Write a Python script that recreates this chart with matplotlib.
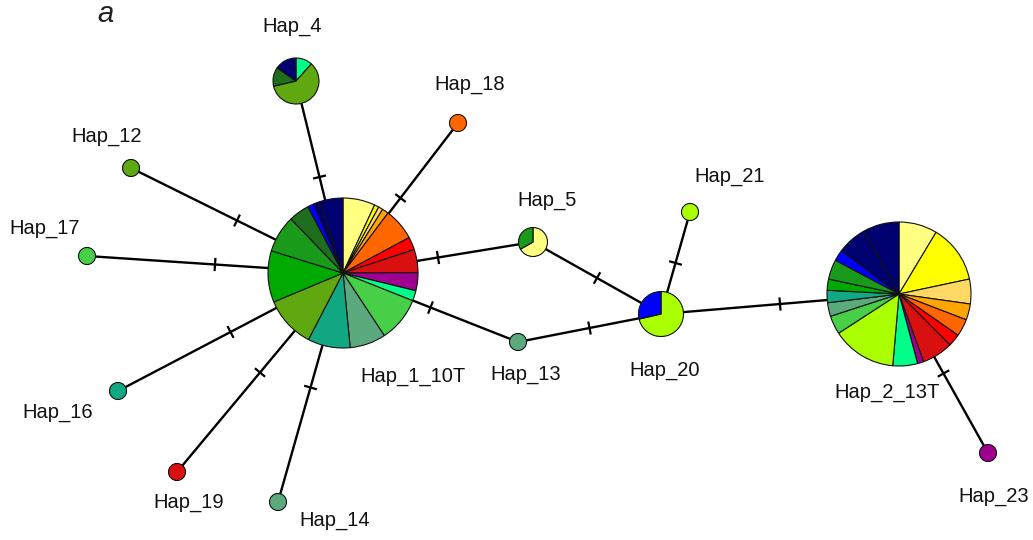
import matplotlib.pyplot as plt
import numpy as np

plt.rcParams['font.family'] = ['Liberation Sans', 'DejaVu Sans']

W, H = 1033, 540

# population colours
LTYEL = '#FFFF80'
YEL = '#FFFF00'
LTORA = '#FFD966'
ORA = '#FFA500'
ORRED = '#FF6600'
RED = '#FF0000'
DKRED = '#D81010'
PURP = '#A00090'
SPRING = '#00FF88'
LTGRN = '#48CF48'
GRYGRN = '#5BAA7D'
TEAL = '#12A884'
OLIVE = '#5FA80F'
GRN = '#00AA00'
MIDGRN = '#1A9A1A'
DKGRN = '#1E6E1E'
BLUE = '#0000FF'
NAVY = '#000070'
YLGRN = '#AAFF00'

# haplotype frequencies per population (clockwise from 12 o'clock)
hap1_sizes = [25, 3.5, 3.5, 5, 25, 10, 18, 14, 8, 35, 28, 33, 40, 40, 29, 16, 5, 5, 18]
hap1_colors = [LTYEL, YEL, LTORA, ORA, ORRED, RED, DKRED, PURP, SPRING, LTGRN,
               GRYGRN, TEAL, OLIVE, GRN, MIDGRN, DKGRN, BLUE, NAVY, NAVY]

hap2_sizes = [31, 47, 20, 13, 14, 10, 25, 5, 20, 52, 15, 11, 10, 9, 16, 9, 24, 29]
hap2_colors = [LTYEL, YEL, LTORA, ORA, ORRED, RED, DKRED, PURP, SPRING, YLGRN,
               LTGRN, GRYGRN, TEAL, GRN, MIDGRN, BLUE, NAVY, NAVY]

hap4_sizes = [42, 215, 48, 55]
hap4_colors = [SPRING, OLIVE, DKGRN, NAVY]

hap5_sizes = [240, 120]
hap5_colors = [LTYEL, MIDGRN]

hap20_sizes = [257, 103]
hap20_colors = [YLGRN, BLUE]

singletons = ['Hap_12', 'Hap_17', 'Hap_16', 'Hap_19', 'Hap_14',
              'Hap_18', 'Hap_13', 'Hap_21', 'Hap_23']
singleton_colors = [OLIVE, LTGRN, TEAL, DKRED, GRYGRN, ORRED, GRYGRN, YLGRN, PURP]

pies = {
    'Hap_1_10T': (hap1_sizes, hap1_colors),
    'Hap_2_13T': (hap2_sizes, hap2_colors),
    'Hap_4': (hap4_sizes, hap4_colors),
    'Hap_5': (hap5_sizes, hap5_colors),
    'Hap_20': (hap20_sizes, hap20_colors),
}
for name, col in zip(singletons, singleton_colors):
    pies[name] = ([1], [col])

# network layout in pixel coordinates (x, y from top, radius)
layout = {
    'Hap_1_10T': (343, 273, 75),
    'Hap_2_13T': (899, 294, 72),
    'Hap_4': (296, 81, 23),
    'Hap_5': (533, 242, 14.5),
    'Hap_20': (661, 314, 22.5),
    'Hap_12': (131, 168, 8.5),
    'Hap_17': (87, 256, 8.5),
    'Hap_16': (118, 391, 8.5),
    'Hap_19': (177, 472, 8.5),
    'Hap_14': (278, 502, 8.5),
    'Hap_18': (458, 123, 8.5),
    'Hap_13': (518, 342, 8.5),
    'Hap_21': (690, 212, 8.5),
    'Hap_23': (988, 453, 8.5),
}

label_pos = {
    'Hap_1_10T': (413, 376),
    'Hap_2_13T': (887, 392),
    'Hap_4': (292, 26),
    'Hap_5': (547, 201),
    'Hap_20': (665, 370),
    'Hap_12': (107, 137),
    'Hap_17': (45, 228),
    'Hap_16': (58, 413),
    'Hap_19': (189, 503),
    'Hap_14': (335, 520),
    'Hap_18': (470, 84),
    'Hap_13': (526, 375),
    'Hap_21': (730, 177),
    'Hap_23': (994, 497),
}

edges = [
    ('Hap_1_10T', 'Hap_4'), ('Hap_1_10T', 'Hap_18'), ('Hap_1_10T', 'Hap_12'),
    ('Hap_1_10T', 'Hap_17'), ('Hap_1_10T', 'Hap_16'), ('Hap_1_10T', 'Hap_19'),
    ('Hap_1_10T', 'Hap_14'), ('Hap_1_10T', 'Hap_5'), ('Hap_1_10T', 'Hap_13'),
    ('Hap_5', 'Hap_20'), ('Hap_13', 'Hap_20'), ('Hap_20', 'Hap_21'),
    ('Hap_20', 'Hap_2_13T'), ('Hap_2_13T', 'Hap_23'),
]

fig = plt.figure(figsize=(W / 100, H / 100), dpi=100)
ax = fig.add_axes([0, 0, 1, 1])


def xy(name):
    x, y, r = layout[name]
    return np.array([x, H - y]), r


# branches with one mutation tick each
for a, b in edges:
    pa, _ = xy(a)
    pb, _ = xy(b)
    ax.plot([pa[0], pb[0]], [pa[1], pb[1]], color='black', lw=1.7, zorder=1,
            solid_capstyle='butt')
    d = (pb - pa) / np.linalg.norm(pb - pa)
    n = np.array([-d[1], d[0]]) * 5.5
    m = (pa + pb) / 2
    ax.plot([m[0] - n[0], m[0] + n[0]], [m[1] - n[1], m[1] + n[1]],
            color='black', lw=1.6, zorder=1)

for name, (sizes, colors) in pies.items():
    c, r = xy(name)
    wedges, _ = ax.pie(sizes, colors=colors, center=tuple(c), radius=r,
                       startangle=90, counterclock=False, frame=True,
                       wedgeprops=dict(edgecolor='#111111', linewidth=0.8))
    for w in wedges:
        w.set_zorder(3)

for name, (x, y) in label_pos.items():
    ax.text(x, H - y, name, fontsize=14.5, ha='center', va='center', color='#111111')

ax.text(105, H - 14, 'a', fontsize=21, style='italic', ha='center', va='center',
        color='#222222')

ax.set_xlim(0, W)
ax.set_ylim(0, H)
ax.set_aspect('equal')
ax.axis('off')

fig.savefig('out.png', dpi=100, facecolor='white')
